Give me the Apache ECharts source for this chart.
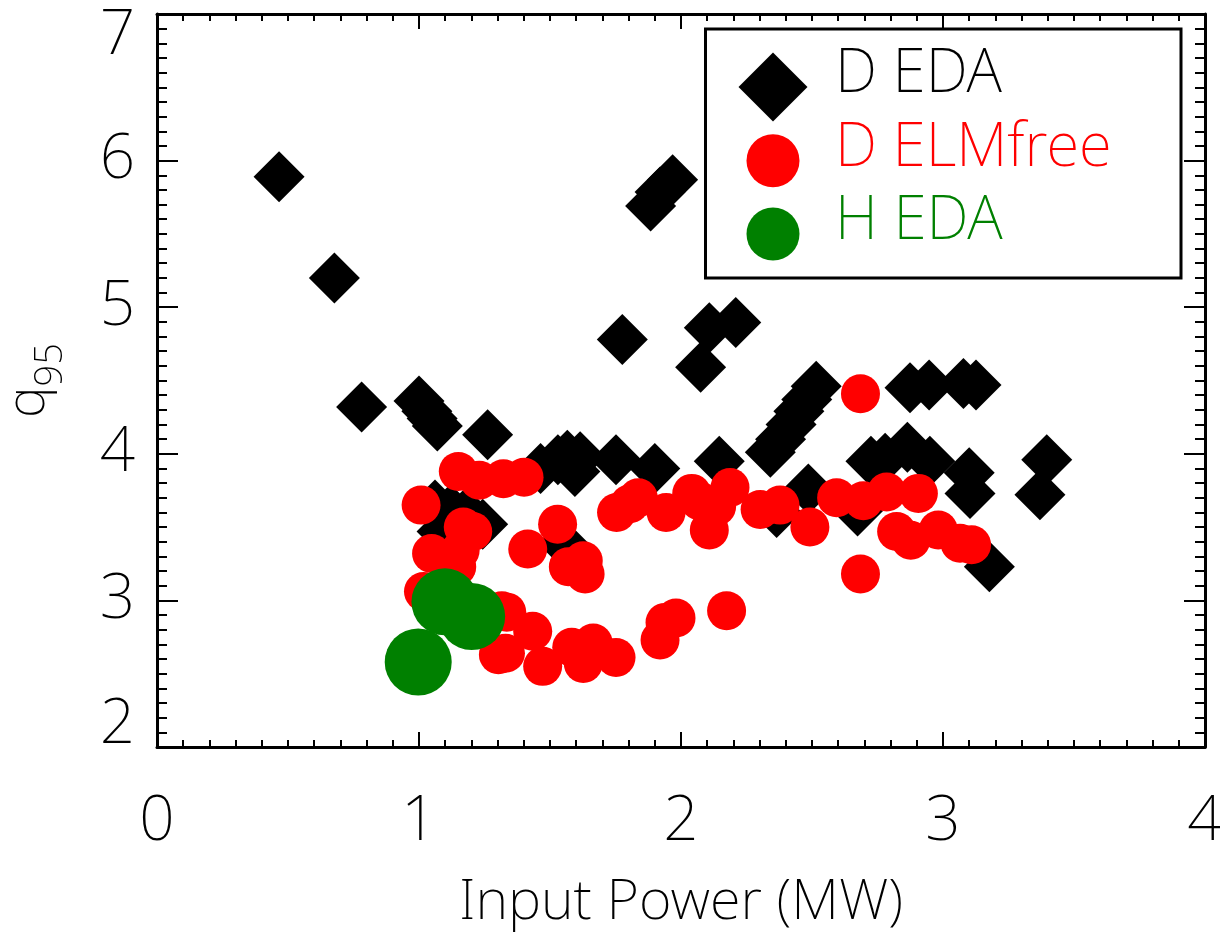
<!DOCTYPE html>
<html><head><meta charset="utf-8">
<script src="https://cdn.jsdelivr.net/npm/echarts@6/dist/echarts.min.js"></script>
<style>html,body{margin:0;padding:0;background:#fff}#c{width:1220px;height:937px}</style>
</head><body><div id="c"></div>
<script>
const seriesNames = ['D EDA', 'D ELMfree', 'H EDA'];
const xTicks = [0, 1, 2, 3, 4];
const yTicks = [2, 3, 4, 5, 6, 7];
const xTitle = 'Input Power (MW)';

const dEDA = [
  [0.466,5.89],[0.677,5.20],[0.781,4.32],
  [1.00,4.36],[1.03,4.29],[1.05,4.24],[1.07,4.19],[1.262,4.13],
  [1.061,3.65],[1.12,3.62],[1.18,3.60],[1.243,3.52],[1.088,3.47],
  [1.464,3.90],[1.53,3.96],[1.566,3.99],[1.615,3.98],[1.595,3.88],[1.752,3.96],[1.90,3.90],
  [1.55,3.39],[1.776,4.78],
  [1.884,5.69],[1.92,5.785],[1.968,5.87],
  [2.075,4.59],[2.108,4.86],[2.209,4.895],[2.146,3.95],
  [2.341,4.01],[2.38,4.10],[2.42,4.20],[2.45,4.29],[2.48,4.37],[2.516,4.46],
  [2.486,3.76],[2.365,3.60],[2.674,3.61],
  [2.725,3.95],[2.779,3.97],[2.864,4.045],[2.950,3.95],[3.10,3.87],[3.103,3.73],
  [2.874,4.45],[2.947,4.47],[3.078,4.48],[3.126,4.47],
  [3.396,3.96],[3.370,3.72],[3.177,3.23]
];
const dELMfree = [
  [1.150,3.88],[1.230,3.82],[1.322,3.83],[1.401,3.84],
  [1.008,3.65],[1.169,3.50],[1.205,3.47],
  [1.048,3.32],[1.157,3.34],[1.144,3.23],
  [1.415,3.35],[1.529,3.52],[1.570,3.23],[1.627,3.27],[1.634,3.18],
  [1.017,3.06],[1.316,2.93],[1.335,2.92],[1.434,2.79],
  [1.303,2.63],[1.33,2.64],[1.472,2.55],
  [1.583,2.68],[1.665,2.71],[1.627,2.57],[1.752,2.61],
  [1.92,2.73],[1.939,2.85],[1.981,2.88],[2.174,2.93],
  [1.754,3.60],[1.805,3.66],[1.837,3.70],[1.943,3.60],
  [2.041,3.73],[2.07,3.68],[2.108,3.48],[2.136,3.64],[2.187,3.77],
  [2.302,3.62],[2.378,3.65],[2.492,3.50],
  [2.594,3.70],[2.696,3.68],[2.785,3.74],[2.906,3.73],
  [2.823,3.47],[2.877,3.41],[2.982,3.48],[3.065,3.39],[3.109,3.38],
  [2.685,4.41],[2.685,3.18]
];
const hEDA = [[0.997,2.58],[1.099,2.99],[1.201,2.89]];

const colors = ['#000000', '#ff0000', '#008000'];
const FONT = 'Noto Sans';
const FW = 200;

const chart = echarts.init(document.getElementById('c'), null, {renderer: 'canvas'});

function xAxisDef(pos, showLabels) {
  return {
    type: 'value', position: pos, min: xTicks[0], max: xTicks[xTicks.length - 1], interval: 1,
    axisLine: {show: true, onZero: false, lineStyle: {color: '#000', width: 3}},
    axisTick: {show: true, inside: true, length: 15, lineStyle: {color: '#000', width: 2}},
    minorTick: {show: true, splitNumber: 10, length: 7, lineStyle: {color: '#000', width: 2}},
    splitLine: {show: false},
    axisLabel: {show: showLabels, margin: 44, fontSize: 62, fontFamily: FONT, fontWeight: FW, color: '#000',
      formatter: v => String(v)},
    name: showLabels ? xTitle : '', nameLocation: 'middle', nameGap: 128,
    nameTextStyle: {fontSize: 56, fontFamily: FONT, fontWeight: FW, color: '#000'}
  };
}
function yAxisDef(pos, showLabels) {
  return {
    type: 'value', position: pos, min: yTicks[0], max: yTicks[yTicks.length - 1], interval: 1,
    axisLine: {show: true, onZero: false, lineStyle: {color: '#000', width: 3}},
    axisTick: {show: true, inside: true, length: 21, lineStyle: {color: '#000', width: 2}},
    minorTick: {show: true, splitNumber: 10, length: 10, lineStyle: {color: '#000', width: 2}},
    splitLine: {show: false},
    axisLabel: {show: showLabels, margin: 22, fontSize: 62, lineHeight: 44, fontFamily: FONT, fontWeight: FW, color: '#000',
      verticalAlignMinLabel: 'bottom', verticalAlignMaxLabel: 'top',
      formatter: v => String(v)},
    name: showLabels ? '{q|q}{s|95}' : '', nameLocation: 'middle', nameGap: 102, nameRotate: 90,
    nameTextStyle: {fontFamily: FONT, fontWeight: FW, color: '#000',
      rich: {
        q: {fontSize: 53, lineHeight: 53, verticalAlign: 'top', fontFamily: FONT, fontWeight: FW, color: '#000'},
        s: {fontSize: 38, lineHeight: 38, verticalAlign: 'top', padding: [30, 0, 0, 0], fontFamily: FONT, fontWeight: FW, color: '#000'}
      }}
  };
}

function legendDef(name, icon, size, iconCx, iconCy, textCy, color) {
  const textLeft = 835;
  const fs = 60;
  const shift = iconCy - textCy;           // how far the text must move up
  const pb = 2 * shift;
  const boxH = fs + pb;
  const pl = textLeft - (iconCx - size / 2) - size - 5;
  return {
    show: true, data: [name], orient: 'vertical', icon: icon,
    itemWidth: size, itemHeight: size, padding: 0, selectedMode: false,
    left: iconCx - size / 2, top: Math.min(iconCy - boxH / 2, iconCy - size / 2),
    formatter: '{t|{name}}',
    textStyle: {fontSize: fs, fontFamily: FONT, fontWeight: FW, color: color,
      rich: {t: {fontSize: fs, lineHeight: fs, fontFamily: FONT, fontWeight: FW, color: color,
        padding: [0, 0, pb, pl]}}}
  };
}

const option = {
  backgroundColor: '#fff',
  animation: false,
  grid: {left: 157, right: 15, top: 14, bottom: 190, containLabel: false, outerBoundsMode: 'none'},
  xAxis: [xAxisDef('bottom', true), xAxisDef('top', false)],
  yAxis: [yAxisDef('left', true), yAxisDef('right', false)],
  legend: [
    legendDef(seriesNames[0], 'diamond', 69, 773, 87, 75, colors[0]),
    legendDef(seriesNames[1], 'circle', 53, 773, 160.7, 149, colors[1]),
    legendDef(seriesNames[2], 'circle', 53, 773, 234, 222, colors[2])
  ],
  graphic: [{
    type: 'rect', shape: {x: 705.5, y: 29, width: 475.5, height: 249},
    style: {fill: null, stroke: '#000', lineWidth: 3}, z: 10
  }],
  series: [
    {name: seriesNames[0], type: 'scatter', data: dEDA, symbol: 'diamond', symbolSize: 51,
      itemStyle: {color: colors[0], opacity: 1}, z: 2},
    {name: seriesNames[1], type: 'scatter', data: dELMfree, symbol: 'circle', symbolSize: 39,
      itemStyle: {color: colors[1], opacity: 1}, z: 3},
    {name: seriesNames[2], type: 'scatter', data: hEDA, symbol: 'circle', symbolSize: 67,
      itemStyle: {color: colors[2], opacity: 1}, z: 4}
  ]
};
chart.setOption(option);
</script></body></html>
